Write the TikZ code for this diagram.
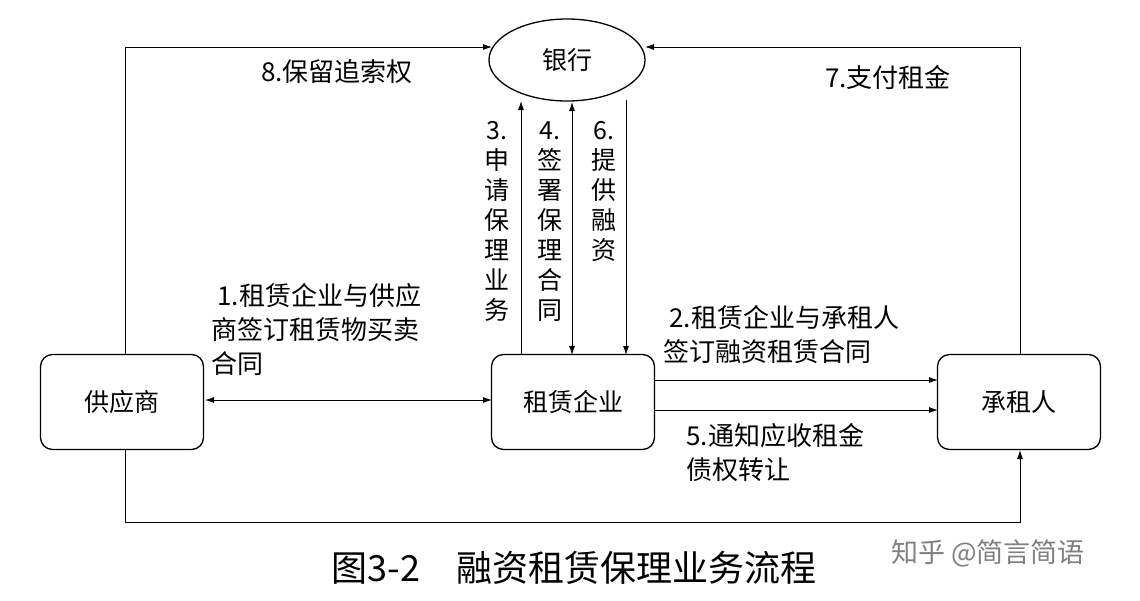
\documentclass[tikz,border=0pt]{standalone}
\usepackage{fontspec}
\setmainfont{Noto Sans CJK SC}
\usetikzlibrary{arrows.meta,shapes.geometric}
\begin{document}
\begin{tikzpicture}[x=1pt,y=-1pt,
  box/.style={draw,line width=1.3pt,rounded corners=12pt,minimum width=163pt,minimum height=95pt,font=\fontsize{25}{28}\selectfont},
  ln/.style={line width=0.9pt,-{Latex[length=9pt,width=6pt]}},
  lb/.style={font=\fontsize{26}{34}\selectfont,align=left},
  vl/.style={font=\fontsize{25}{30}\selectfont,align=center}]
\useasboundingbox (0,0) rectangle (1140,600);
\node[draw,ellipse,line width=1.3pt,minimum width=156pt,minimum height=82pt,font=\fontsize{25}{28}\selectfont] (bank) at (567,60) {银行};
\node[box] (sup) at (122,402) {供应商};
\node[box] (ent) at (573,402) {租赁企业};
\node[box] (les) at (1019,402) {承租人};
% 8
\draw[ln] (125,355) -- (125,47) -- (492,47);
\node[lb] (t8) at (337,72) {8.保留追索权};
% 7
\draw[ln] (1020,355) -- (1020,47) -- (645,47);
\node[lb] (t7) at (888,78) {7.支付租金};
% bottom
\draw[ln] (125,450) -- (125,522) -- (1020,522) -- (1020,450);
% verticals
\draw[ln] (521,355) -- (521,101);
\draw[line width=0.9pt,{Latex[length=9pt,width=6pt]}-{Latex[length=9pt,width=6pt]}] (572,102) -- (572,355);
\draw[ln] (626,100) -- (626,355);
\node[vl,anchor=north] (t3) at (497,118) {3.\\申\\请\\保\\理\\业\\务};
\node[vl,anchor=north] (t4) at (550,118) {4.\\签\\署\\保\\理\\合\\同};
\node[vl,anchor=north] (t6) at (604,118) {6.\\提\\供\\融\\资};
% 1
\draw[line width=0.9pt,{Latex[length=9pt,width=6pt]}-{Latex[length=9pt,width=6pt]}] (205,400) -- (492,400);
\node[lb,anchor=north west] (t1) at (208,280) {\ 1.租赁企业与供应\\商签订租赁物买卖\\合同};
% 2,5
\draw[ln] (655,380) -- (938,380);
\draw[ln] (655,410) -- (938,410);
\node[lb,anchor=north west] (t2) at (660,302) {\ 2.租赁企业与承租人\\签订融资租赁合同};
\node[lb,anchor=north west] (t5) at (683,420) {5.通知应收租金\\债权转让};
\node[font=\fontsize{36}{40}\selectfont] (cap) at (574,568) {图3-2\quad 融资租赁保理业务流程};
\node[font=\fontsize{27}{30}\selectfont,text=gray] (wm) at (988,553) {知乎 @简言简语};
\end{tikzpicture}
\end{document}
